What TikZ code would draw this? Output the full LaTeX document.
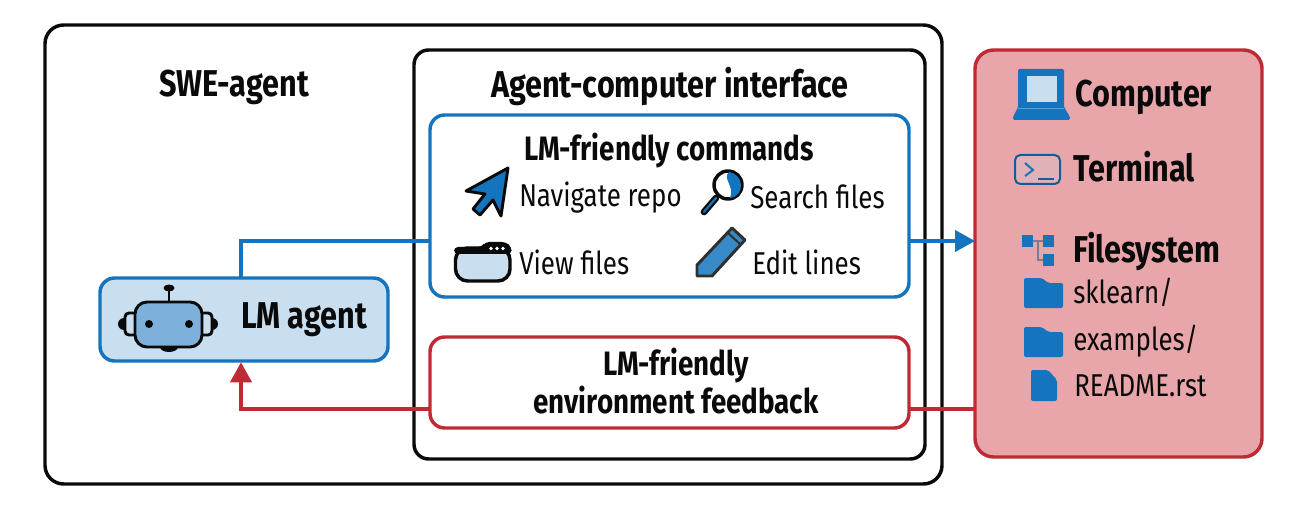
\documentclass[tikz,border=0pt]{standalone}
\usepackage{fontspec}
\setmainfont[FakeStretch=0.82]{Fira Sans}
\usetikzlibrary{arrows.meta}
\definecolor{bl}{HTML}{1474BD}
\definecolor{rd}{HTML}{BE2B34}
\definecolor{pk}{HTML}{E8A6AA}
\definecolor{lb}{HTML}{C9DFF0}
\definecolor{mb}{HTML}{7DB0DB}
\definecolor{ink}{HTML}{0A0A0A}
\tikzset{
 framebox/.style={draw=#1,line width=2.6pt,rounded corners=11pt,inner sep=0pt,outer sep=0pt},
 ttl/.style={font=\fontsize{28}{32}\selectfont\bfseries,text=ink,inner sep=0pt,align=center},
 sub/.style={font=\fontsize{25.4}{28}\selectfont\bfseries,text=ink,inner sep=0pt,align=center},
 lbl/.style={font=\fontsize{23.7}{28}\selectfont,text=ink,inner sep=0pt,anchor=west},
 wire/.style={line width=2.4pt},
 tip/.style={-{Triangle[length=15pt,width=16pt]}},
 ico/.style={draw=ink,line width=2.2pt,line join=round},
}
\newcommand{\boxat}[6]{\node[framebox=#5,#6,minimum width=#3*0.75pt,minimum height=#4*0.75pt,anchor=north west] (#1) at #2 {};}
\begin{document}
\begin{tikzpicture}[x=0.75pt,y=-0.75pt]
\useasboundingbox (0,0) rectangle (1300,506);
% frames
\boxat{outer}{(45,25)}{897}{459}{ink}{rounded corners=14pt}
\boxat{aci}{(414,50)}{511}{409}{ink}{}
\boxat{cmd}{(430,115)}{479}{182}{bl}{}
\boxat{fb}{(430,337)}{479}{91}{rd}{}
\boxat{comp}{(975,50)}{287}{407}{rd}{fill=pk,rounded corners=14pt}
\boxat{agent}{(100,278)}{288}{83}{bl}{fill=lb}
% anchors for connectors
\coordinate (upper) at (241,241);
\coordinate (lower) at (241,409);
% connectors
\draw[wire,bl] (agent.north -| upper) -- (upper) -- (cmd.west |- upper);
\draw[wire,bl,tip] (cmd.east |- upper) -- (comp.west |- upper);
\draw[wire,rd] (comp.west |- lower) -- (fb.east |- lower);
\draw[wire,rd,tip] (fb.west |- lower) -- (lower) -- ([yshift=-1pt]agent.south -| lower);
% titles
\node[ttl] (swe) at (234,87) {SWE-agent};
\node[ttl] (acit) at (670,87) {Agent-computer interface};
\node[sub] (cmdt) at (669,151) {LM-friendly commands};
\node[sub] (fbt) at (676,381) {LM-friendly\\environment feedback};
\node[ttl,anchor=west] (agt) at (241,320) {LM agent};
\node[ttl,anchor=west] (compt) at (1075,97) {Computer};
\node[ttl,anchor=west] (termt) at (1073,167) {Terminal};
\node[ttl,anchor=west] (fst) at (1073,252) {Filesystem};
% labels
\node[lbl] (nav) at (519,198) {Navigate repo};
\node[lbl] (srch) at (750,197) {Search files};
\node[lbl] (view) at (519,262) {View files};
\node[lbl] (edit) at (752,262) {Edit lines};
\node[lbl] (skl) at (1073,292) {sklearn/};
\node[lbl] (exa) at (1073,341) {examples/};
\node[lbl] (rdm) at (1074,386) {README.rst};
% robot icon
\fill[ink] (124,324) circle (6);
\fill[ink] (212,324) circle (6);
\fill[ink] (169,347) ellipse (9 and 5);
\draw[ink,line width=2.2pt,fill=lb,rounded corners=3pt] (135,313) -- (125,313) -- (125,335) -- (135,335);
\draw[ink,line width=2.2pt,fill=lb,rounded corners=3pt] (202,313) -- (212,313) -- (212,335) -- (202,335);
\draw[ink,line width=2.2pt,fill=mb,rounded corners=9pt] (135,302) rectangle (202,347);
\draw[ink,line width=2.2pt] (169,302) -- (169,290);
\fill[ink] (169,288) ellipse (5.5 and 3.5);
\fill[ink] (149,324) circle (4);
\fill[ink] (189,324) circle (4);
% navigate cursor
\draw[ico,fill=bl] (508,168) -- (466,191) -- (485,194) -- (473,209) -- (480,215) -- (493,200) -- (501,216) -- cycle;
% view window
\draw[ink,line width=2.6pt,fill=lb,rounded corners=9pt] (455.5,248) rectangle (510,281);
\fill[ink,rounded corners=3pt] (454,254) -- (454,247) -- (482,247) -- (485,242) -- (506,242) -- (511.5,247) -- (511.5,254) -- cycle;
\foreach \x in {491,497,503} \fill[white] (\x,248.5) circle (1.9);
% magnifier
\draw[ink,line width=5pt,line cap=round] (716,198) -- (704,212);
\draw[bl,line width=1.6pt,line cap=round] (716,198) -- (704,212);
\draw[ink,line width=2.6pt,fill=white] (728,185) circle (14);
\fill[bl] (729,172) .. controls (722,179) and (735,186) .. (730,198) .. controls (738,197) and (741,191) .. (741,185) .. controls (741,178) and (735,173) .. (729,172) -- cycle;
% pencil
\draw[line width=2.2pt,line join=round,fill=bl!85!white,draw=ink!85] (697,276) -- (697,265) -- (732,228) -- (745,240) -- (712,276) -- cycle;
\draw[ink!85,line width=1.5pt] (728,233) -- (741,245);
% laptop
\fill[bl,rounded corners=1pt] (1018,69) -- (1064,69) -- (1064,107) -- (1070,117) -- (1070,120) -- (1013,120) -- (1013,117) -- (1018,107) -- cycle;
\fill[lb] (1027,76) -- (1057,76) -- (1057,102) -- (1027,102) -- cycle;
\draw[bl!60!lb,line width=0.5pt] (1018,108) -- (1064,108);
% terminal
\draw[bl!80!black,line width=1.5pt,rounded corners=4pt,fill=lb!20!pk] (1015,155) rectangle (1060,184);
\draw[bl,line width=1.5pt] (1025,163) -- (1033,170) -- (1025,176);
\draw[bl!80!black,line width=1.5pt] (1038,179) -- (1054,179);
% filesystem
\draw[bl!40!pk!85!black,line width=1pt] (1033,241) -- (1043,241) (1038,241) -- (1038,260) -- (1043,260);
\fill[bl] (1022,235) rectangle (1033,247);
\fill[bl] (1043,235) rectangle (1054,247);
\fill[bl] (1043,254) rectangle (1054,266);
% folders
\foreach \yy in {278,327} {
 \fill[bl,rounded corners=1.5pt] (1024,\yy) -- (1042,\yy) -- (1048,\yy+5) -- (1063,\yy+5) -- (1063,\yy+30) -- (1024,\yy+30) -- cycle;
}
% file
\fill[bl,rounded corners=1.5pt] (1031,370) -- (1048,370) -- (1057,380) -- (1057,401) -- (1031,401) -- cycle;
\end{tikzpicture}
\end{document}
